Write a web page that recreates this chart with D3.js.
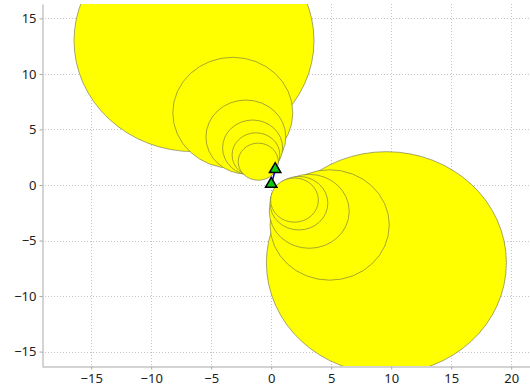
<!DOCTYPE html>
<html>
<head>
<meta charset="utf-8">
<script src="https://cdn.jsdelivr.net/npm/d3@7"></script>
<style>
  body { margin: 0; background: #fff; }
  svg { display: block; }
  .tick text { font-family: "Noto Sans", sans-serif; font-size: 13px; fill: #222; }
</style>
</head>
<body>
<div id="chart"></div>
<script>
// circle clusters (data units): centres and radii, big ones first
const circleX = [-6.43, -3.2, -2.11, -1.55, -1.27, -1.08, 9.6, 4.87, 3.17, 2.31, 1.94];
const circleY = [13.0, 6.5, 4.32, 3.35, 2.71, 2.1, -7.0, -3.6, -2.37, -1.64, -1.36];
const circleR = [10, 5, 3.33, 2.5, 1.99, 1.67, 10, 4.97, 3.33, 2.41, 1.99];

// the two marker points joined by a line
const pointX = [0, 0.33];
const pointY = [0, 1.33];

const xTicks = [-15, -10, -5, 0, 5, 10, 15, 20];
const yTicks = [-15, -10, -5, 0, 5, 10, 15];

const width = 530, height = 392;
const plotL = 42, plotT = 4, plotR = 530.4, plotB = 366;

const x = d3.scaleLinear().domain([-19.1, 21.6]).range([plotL, plotR]);
const y = d3.scaleLinear().domain([-16.3, 16.3]).range([plotB, plotT]);

const svg = d3.select("#chart").append("svg")
    .attr("width", width)
    .attr("height", height);

svg.append("clipPath").attr("id", "plotclip")
  .append("rect")
    .attr("x", plotL).attr("y", plotT)
    .attr("width", plotR - plotL).attr("height", plotB - plotT);

// grid
const grid = svg.append("g")
    .attr("stroke", "#c4c4c4")
    .attr("stroke-width", 1)
    .attr("stroke-dasharray", "1,2");
grid.selectAll("line.gx").data(xTicks).enter().append("line")
    .attr("x1", d => Math.round(x(d)) + 0.5).attr("x2", d => Math.round(x(d)) + 0.5)
    .attr("y1", plotT).attr("y2", plotB);
grid.selectAll("line.gy").data(yTicks).enter().append("line")
    .attr("y1", d => Math.round(y(d)) + 0.5).attr("y2", d => Math.round(y(d)) + 0.5)
    .attr("x1", plotL).attr("x2", plotR);

// circles (drawn as ellipses since units differ per axis)
const circles = d3.range(circleX.length);
svg.append("g").attr("clip-path", "url(#plotclip)")
  .selectAll("ellipse").data(circles).enter().append("ellipse")
    .attr("cx", i => x(circleX[i]))
    .attr("cy", i => y(circleY[i]))
    .attr("rx", i => x(circleR[i]) - x(0))
    .attr("ry", i => y(0) - y(circleR[i]))
    .style("fill", "#ffff00")
    .style("stroke", "#6b6b4a")
    .style("stroke-width", 0.6);

// line between the points
svg.append("path")
    .datum(d3.range(pointX.length))
    .attr("d", d3.line().x(i => x(pointX[i])).y(i => y(pointY[i])))
    .style("fill", "none")
    .style("stroke", "#0000ff")
    .style("stroke-width", 1.5);

// triangle markers
svg.selectAll("path.marker").data(d3.range(pointX.length)).enter().append("path")
    .attr("class", "marker")
    .attr("transform", i => "translate(" + x(pointX[i]) + "," + (y(pointY[i]) - 1) + ")")
    .attr("d", d3.symbol().type(d3.symbolTriangle).size(56))
    .style("fill", "#10cc10")
    .style("stroke", "#000")
    .style("stroke-width", 1.5);

// axes
const xAxis = svg.append("g")
    .attr("transform", "translate(0," + (plotB + 0.5) + ")")
    .call(d3.axisBottom(x).tickValues(xTicks).tickSizeInner(3).tickSizeOuter(0).tickPadding(4)
        .tickFormat(d => d3.format("d")(d).replace("-", "\u2212")));
const yAxis = svg.append("g")
    .attr("transform", "translate(" + (plotL + 0.5) + ",0)")
    .call(d3.axisLeft(y).tickValues(yTicks).tickSizeInner(3).tickSizeOuter(0).tickPadding(3)
        .tickFormat(d => d3.format("d")(d).replace("-", "\u2212")));
[xAxis, yAxis].forEach(a => {
  a.select(".domain").attr("stroke", "#a8a8a8");
  a.selectAll(".tick line").attr("stroke", "#a8a8a8");
});
</script>
</body>
</html>
